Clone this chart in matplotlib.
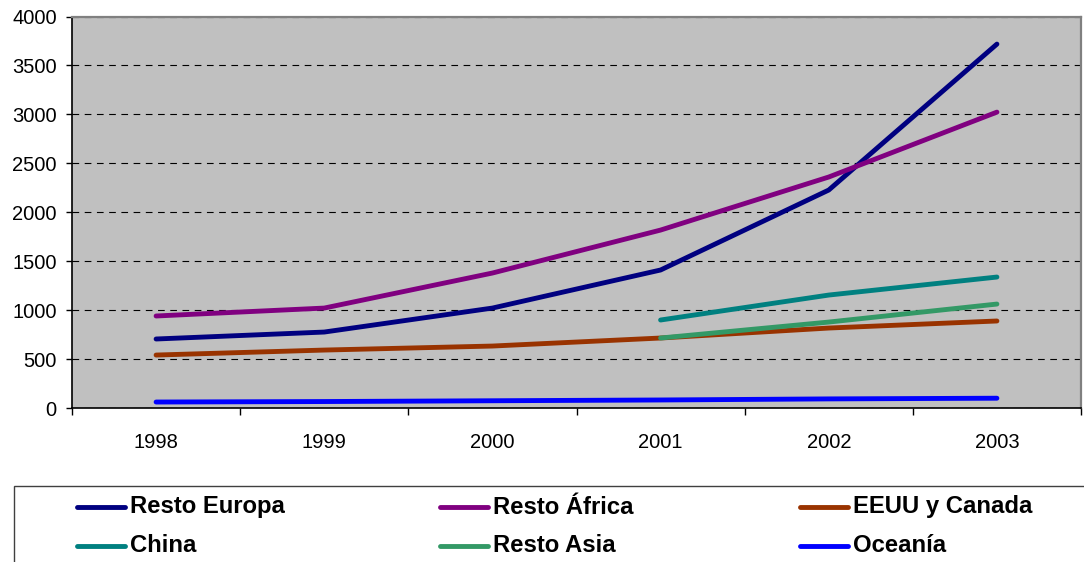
import numpy as np
import matplotlib
matplotlib.use("Agg")
import matplotlib.pyplot as plt
from matplotlib.lines import Line2D
from matplotlib.patches import Rectangle

plt.rcParams['font.family'] = ['Liberation Sans', 'DejaVu Sans']

# datos
years = ['1998', '1999', '2000', '2001', '2002', '2003']
resto_europa = [705, 776, 1021, 1410, 2227, 3718]
resto_africa = [940, 1021, 1379, 1818, 2360, 3023]
eeuu_canada = [541, 592, 633, 715, 817, 889]
china = [None, None, None, 899, 1154, 1338]
resto_asia = [None, None, None, 715, 878, 1062]
oceania = [61, 66, 74, 82, 93, 100]

series = [
    ('Resto Europa', resto_europa, '#000080'),
    ('Resto África', resto_africa, '#800080'),
    ('EEUU y Canada', eeuu_canada, '#993300'),
    ('China', china, '#008080'),
    ('Resto Asia', resto_asia, '#339966'),
    ('Oceanía', oceania, '#0000FF'),
]

W, H = 1084, 562
fig = plt.figure(figsize=(W / 100, H / 100), dpi=100)
ax = fig.add_axes([72 / W, 1 - 408 / H, (1081 - 72) / W, (408 - 16.5) / H])
ax.set_facecolor('#C0C0C0')

x = np.arange(len(years)) + 0.5
for name, vals, col in series:
    v = np.array([np.nan if a is None else a for a in vals], dtype=float)
    ax.plot(x, v, color=col, lw=3.5, label=name, solid_capstyle='round',
            solid_joinstyle='round', zorder=3)

ax.set_xlim(0, 6)
ax.set_ylim(0, 4000)
ax.set_yticks(range(0, 4001, 500))
ax.set_xticks(range(0, 7))
ax.set_xticklabels([])
ax.set_xticks(x, minor=True)
ax.set_xticklabels(years, minor=True)
ax.tick_params(axis='x', which='minor', length=0, pad=18, labelsize=14.5)
ax.tick_params(axis='x', which='major', length=5, width=1, direction='out')
ax.tick_params(axis='y', length=4, width=1, direction='out', labelsize=14.5, pad=7)

ax.yaxis.grid(True, linestyle=(0, (6, 5)), color='black', lw=0.8)
ax.set_axisbelow(True)
for s in ['left', 'bottom']:
    ax.spines[s].set_color('black')
    ax.spines[s].set_linewidth(1.2)
for s in ['top', 'right']:
    ax.spines[s].set_color('#808080')
    ax.spines[s].set_linewidth(1.6)

# leyenda (cuadro abajo, cortado por el borde)
fig.patches.append(Rectangle((14 / W, -0.05), 1.0, (H - 486) / H + 0.05,
                             transform=fig.transFigure, facecolor='white',
                             edgecolor='#404040', lw=1.0))
col_x = [77, 440, 800]
row_y = [507, 546]
for i, (name, vals, col) in enumerate(series):
    cx = col_x[i % 3]
    ry = 1 - row_y[i // 3] / H
    fig.add_artist(Line2D([cx / W, (cx + 48) / W], [ry, ry], color=col, lw=3.5,
                          solid_capstyle='round', transform=fig.transFigure))
    fig.text((cx + 53) / W, ry, name, fontsize=17.2, fontweight='bold',
             va='center', ha='left')

fig.savefig('out.png', dpi=100)
